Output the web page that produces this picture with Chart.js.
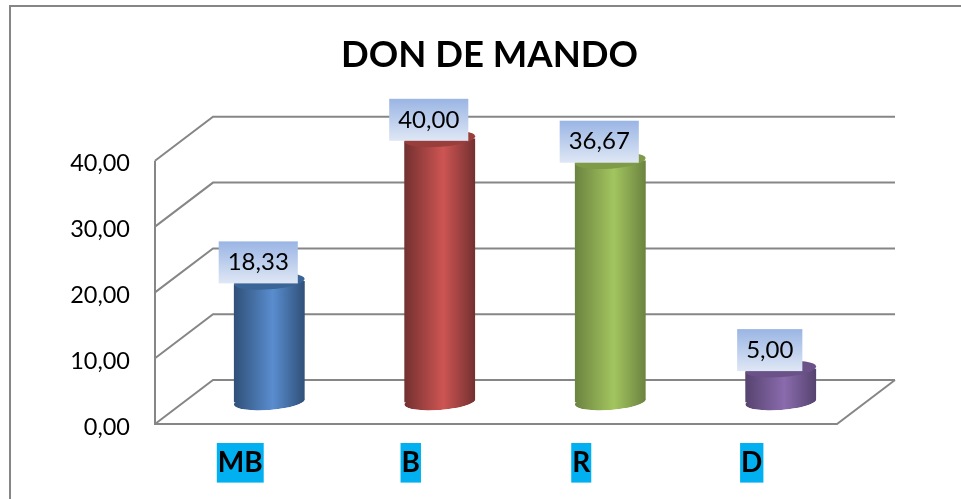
<!DOCTYPE html>
<html>
<head>
<meta charset="utf-8">
<title>DON DE MANDO</title>
<script src="https://cdn.jsdelivr.net/npm/chart.js@4"></script>
<style>
  html, body { margin: 0; padding: 0; background: #fff; }
  #wrap { position: relative; width: 961px; height: 499px; }
  canvas { display: block; }
</style>
</head>
<body>
<div id="wrap"><canvas id="chart" width="961" height="499"></canvas></div>
<script>
const categories = ['MB', 'B', 'R', 'D'];
const seriesValues = [18.33, 40.0, 36.67, 5.0];
const tickValues = [0, 10, 20, 30, 40];

const fontName = 'Lato, "Open Sans", sans-serif';
const gridColor = '#868686';
const depthX = 58;
const depthY = 44;

// edge, middle, lid colour of each cylinder
const barColors = [
  ['#2f5078', '#5a8dcf', '#3b6596'],
  ['#733030', '#cd5553', '#9a3e3c'],
  ['#6b8340', '#a3c55f', '#7f9b48'],
  ['#56436f', '#8a6bad', '#6a5288'],
];

function formatValue(value) {
  return value.toFixed(2).replace('.', ',');
}

function barGradient(ctx, left, right, colors) {
  const gradient = ctx.createLinearGradient(left, 0, right, 0);
  gradient.addColorStop(0, colors[0]);
  gradient.addColorStop(0.55, colors[1]);
  gradient.addColorStop(1, colors[0]);
  return gradient;
}

// back wall and floor, taken from the y scale ticks
const wallPlugin = {
  id: 'wall',
  beforeDatasetsDraw(chart) {
    const { ctx, chartArea, scales } = chart;
    ctx.save();
    ctx.strokeStyle = gridColor;
    ctx.lineWidth = 2;
    tickValues.forEach((tick) => {
      const y = scales.y.getPixelForValue(tick);
      ctx.beginPath();
      ctx.moveTo(chartArea.left, y);
      ctx.lineTo(chartArea.left + depthX, y - depthY);
      ctx.lineTo(chartArea.right + depthX, y - depthY);
      ctx.stroke();
    });
    ctx.beginPath();
    ctx.moveTo(chartArea.left, chartArea.top);
    ctx.lineTo(chartArea.left, chartArea.bottom);
    ctx.lineTo(chartArea.right, chartArea.bottom);
    ctx.lineTo(chartArea.right + depthX, chartArea.bottom - depthY);
    ctx.stroke();
    ctx.restore();
  },
};

const tilt = -0.075;

// bars stand in the middle of the floor depth, with a round foot and lid
const cylinderPlugin = {
  id: 'cylinder',
  beforeDatasetDraw(chart) {
    const { ctx } = chart;
    const bars = chart.getDatasetMeta(0).data;
    ctx.save();
    ctx.translate(depthX / 2, -depthY / 2);
    ctx.beginPath();
    bars.forEach((bar) => {
      const half = bar.width / 2;
      ctx.moveTo(bar.x - half, bar.y + 3);
      ctx.lineTo(bar.x + half, bar.y - 3);
      ctx.ellipse(bar.x, bar.base, half, 8, tilt, 0, Math.PI);
      ctx.closePath();
    });
    ctx.clip();
    bars.forEach((bar, index) => {
      const half = bar.width / 2;
      ctx.fillStyle = barGradient(ctx, bar.x - half, bar.x + half, barColors[index]);
      ctx.beginPath();
      ctx.ellipse(bar.x, bar.base, half, 8, tilt, 0, Math.PI * 2);
      ctx.fill();
    });
  },
  afterDatasetDraw(chart) {
    const { ctx } = chart;
    const bars = chart.getDatasetMeta(0).data;
    ctx.restore();
    ctx.save();
    ctx.translate(depthX / 2, -depthY / 2);
    bars.forEach((bar, index) => {
      ctx.fillStyle = barColors[index][2];
      ctx.beginPath();
      ctx.ellipse(bar.x, bar.y, bar.width / 2, 8, tilt, 0, Math.PI * 2);
      ctx.fill();
    });
    ctx.restore();
  },
};

// value boxes above each cylinder
const valueBoxPlugin = {
  id: 'valueBox',
  afterDatasetsDraw(chart) {
    const { ctx } = chart;
    const bars = chart.getDatasetMeta(0).data;
    ctx.save();
    ctx.font = '24px ' + fontName;
    ctx.textAlign = 'center';
    ctx.textBaseline = 'middle';
    bars.forEach((bar, index) => {
      const text = formatValue(seriesValues[index]);
      const width = ctx.measureText(text).width + 18;
      const centerX = bar.x + depthX / 2 - 11;
      const bottom = bar.y - depthY / 2 + 2;
      const top = bottom - 42;
      const gradient = ctx.createLinearGradient(0, top, 0, bottom);
      gradient.addColorStop(0, '#9ab5e4');
      gradient.addColorStop(1, '#dfe7f5');
      ctx.fillStyle = gradient;
      ctx.fillRect(centerX - width / 2, top, width, 42);
      ctx.fillStyle = '#000';
      ctx.fillText(text, centerX, top + 21);
    });
    ctx.restore();
  },
};

// only the top and left sides of the frame are inside the picture
const framePlugin = {
  id: 'frame',
  afterDraw(chart) {
    const { ctx, width, height } = chart;
    ctx.save();
    ctx.strokeStyle = gridColor;
    ctx.lineWidth = 2;
    ctx.beginPath();
    ctx.moveTo(10, height);
    ctx.lineTo(10, 6);
    ctx.lineTo(width, 6);
    ctx.stroke();
    ctx.restore();
  },
};

new Chart(document.getElementById('chart'), {
  type: 'bar',
  data: {
    labels: categories,
    datasets: [
      {
        data: seriesValues,
        backgroundColor: (context) => {
          const { chart, dataIndex } = context;
          const area = chart.chartArea;
          if (!area || dataIndex === undefined) return '#888';
          const band = (area.right - area.left) / categories.length;
          const center = area.left + band * (dataIndex + 0.5);
          return barGradient(chart.ctx, center - 35.5, center + 35.5, barColors[dataIndex]);
        },
        barThickness: 71,
        clip: false,
      },
    ],
  },
  options: {
    responsive: false,
    animation: false,
    layout: { padding: { left: 18, right: 0, top: 0, bottom: 0 } },
    plugins: {
      legend: { display: false },
      tooltip: { enabled: false },
      title: {
        display: true,
        text: 'DON DE MANDO',
        color: '#000',
        font: { family: fontName, size: 36.5, weight: 'bold' },
        padding: { top: 33, bottom: 84 },
      },
    },
    scales: {
      x: {
        afterFit(scale) { scale.height = 75; },
        grid: { display: false, drawTicks: false },
        border: { display: false },
        ticks: {
          color: '#000',
          padding: 22,
          font: { family: fontName, size: 28, weight: 'bold' },
          showLabelBackdrop: true,
          backdropColor: '#00b0f0',
          backdropPadding: { x: 1, y: 3 },
          maxRotation: 0,
        },
      },
      y: {
        min: 0,
        max: 40,
        afterFit(scale) {
          scale.width = 137;
          // labels sit a little under their grid line
          if (!scale.shiftedLabels) {
            const drawLabels = scale.drawLabels;
            scale.drawLabels = function (area) {
              this.ctx.save();
              this.ctx.translate(0, 3);
              drawLabels.call(this, area);
              this.ctx.restore();
            };
            scale.shiftedLabels = true;
          }
        },
        afterBuildTicks(scale) { scale.ticks = tickValues.map((value) => ({ value })); },
        grid: { display: false, drawTicks: false },
        border: { display: false },
        ticks: {
          color: '#000',
          padding: 25,
          font: { family: fontName, size: 23.5 },
          callback: (value) => formatValue(value),
        },
      },
      // empty axis: keeps the plot short of the right edge, the floor runs on into it
      spacer: {
        position: 'right',
        afterFit(scale) { scale.width = 124; },
        grid: { display: false, drawTicks: false },
        border: { display: false },
        ticks: { display: false },
      },
    },
  },
  plugins: [wallPlugin, cylinderPlugin, valueBoxPlugin, framePlugin],
});
</script>
</body>
</html>
